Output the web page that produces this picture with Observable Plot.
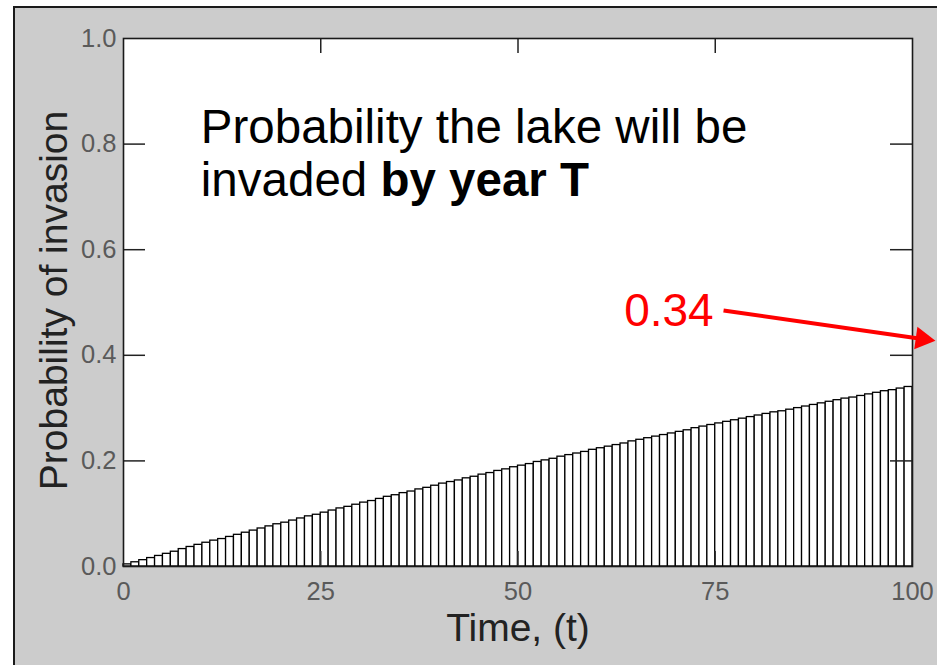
<!DOCTYPE html>
<html>
<head>
<meta charset="utf-8">
<script src="https://cdn.jsdelivr.net/npm/d3@7"></script>
<script src="https://cdn.jsdelivr.net/npm/@observablehq/plot@0.6"></script>
<style>
  html, body { margin: 0; padding: 0; background: #ffffff; }
  #wrap { position: relative; width: 937px; height: 665px; overflow: hidden; background: #ffffff; }
  #panel { position: absolute; left: 13px; top: 6px; right: 0; bottom: 0; background: #cccccc;
           border-left: 2px solid #1a1a1a; border-top: 2px solid #1a1a1a; }
  #chart { position: absolute; left: 0; top: 0; }
</style>
</head>
<body>
<div id="wrap"><div id="panel"></div><div id="chart"></div></div>
<script>
// Probability of invasion by year t (t = 1..100)
const probs = [
  0.004,0.008,0.012,0.016,0.020,0.024,0.028,0.033,0.037,0.041,
  0.045,0.049,0.052,0.056,0.060,0.064,0.068,0.072,0.076,0.080,
  0.083,0.087,0.091,0.095,0.098,0.102,0.106,0.110,0.113,0.117,
  0.121,0.124,0.128,0.132,0.135,0.139,0.142,0.146,0.149,0.153,
  0.157,0.160,0.163,0.167,0.170,0.174,0.177,0.181,0.184,0.188,
  0.191,0.194,0.198,0.201,0.204,0.208,0.211,0.214,0.217,0.221,
  0.224,0.227,0.230,0.233,0.237,0.240,0.243,0.246,0.249,0.252,
  0.255,0.258,0.262,0.265,0.268,0.271,0.274,0.277,0.280,0.283,
  0.286,0.289,0.292,0.294,0.297,0.300,0.303,0.306,0.309,0.312,
  0.315,0.318,0.320,0.323,0.326,0.329,0.332,0.334,0.337,0.340
];
const years = probs.map((_, i) => i + 1);

const xTickLabels = [0, 25, 50, 75, 100];
const xInnerTicks = [25, 50, 75];
const yTickLabels = [0, 0.2, 0.4, 0.6, 0.8, 1.0];
const yInnerTicks = [0.2, 0.4, 0.6, 0.8];

const xTitle = "Time, (t)";
const yTitle = "Probability of invasion";

// annotation (data coordinates)
const noteLines = ["Probability the lake will be", "invaded by year T"];
const noteT = [9.8, 9.8];
const noteP = [0.803, 0.701];
const valueLabel = ["0.34"];
const valueLabelT = [74.8];
const valueLabelP = [0.456];
const arrowFrom = [76.05, 0.485];
const arrowTo = [101.25, 0.431];

const bars = years.map((t, i) => ({t, p: probs[i]}));
const notes = noteLines.map((s, i) => ({s, t: noteT[i], p: noteP[i]}));
const vlabels = valueLabel.map((s, i) => ({s, t: valueLabelT[i], p: valueLabelP[i]}));
const arrowData = [{x1: arrowFrom[0], y1: arrowFrom[1], x2: arrowTo[0], y2: arrowTo[1]}];

const W = 937, H = 665, ML = 123, MR = 25, MT = 38, MB = 99;
const FW = W - ML - MR, FH = H - MT - MB;
const font = "'Liberation Sans', Arial, Helvetica, sans-serif";

const chart = Plot.plot({
  width: W,
  height: H,
  marginLeft: ML, marginRight: MR, marginTop: MT, marginBottom: MB,
  style: {background: "transparent", fontFamily: font, overflow: "visible"},
  x: {domain: [0, 100], axis: null},
  y: {domain: [0, 1], axis: null},
  marks: [
    Plot.frame({fill: "white", stroke: null}),
    Plot.rectY(bars, {x1: d => d.t - 1, x2: d => d.t, y: "p", fill: "white", stroke: "#000", strokeWidth: 1.3}),
    // inward ticks
    Plot.tickY(yInnerTicks, {y: d => d, stroke: "#222", strokeWidth: 1.5, insetRight: FW - 22}),
    Plot.tickY(yInnerTicks, {y: d => d, stroke: "#222", strokeWidth: 1.5, insetLeft: FW - 22}),
    Plot.tickX(xInnerTicks, {x: d => d, stroke: "#222", strokeWidth: 1.5, insetBottom: FH - 15}),
    Plot.tickX(xInnerTicks, {x: d => d, stroke: "#333", strokeWidth: 1.5, insetTop: FH - 15}),
    Plot.frame({stroke: "#1a1a1a", strokeWidth: 1.6}),
    // tick labels
    Plot.axisY(yTickLabels, {anchor: "left", tickSize: 0, tickPadding: 7, fontSize: 25.5, color: "#5a5a5a",
      tickFormat: d => d.toFixed(1), label: null}),
    Plot.axisX(xTickLabels, {anchor: "bottom", tickSize: 0, tickPadding: 15, fontSize: 25.5, color: "#5a5a5a",
      tickFormat: d => String(d), label: null}),
    // axis titles
    Plot.text([yTitle], {frameAnchor: "left", dx: -57, dy: -2, rotate: -90, text: d => d, textAnchor: "middle",
      lineAnchor: "bottom", fontSize: 39, fill: "#222"}),
    Plot.text([xTitle], {frameAnchor: "bottom", dy: 74, text: d => d, textAnchor: "middle",
      lineAnchor: "bottom", fontSize: 39, fill: "#222"}),
    // annotation text
    Plot.text(notes, {x: "t", y: "p", text: "s", textAnchor: "start", lineAnchor: "bottom", fontSize: 47.5, fill: "#000"}),
    Plot.text(vlabels, {x: "t", y: "p", text: "s", textAnchor: "end", lineAnchor: "bottom", fontSize: 46, fill: "#ff0000"}),
    Plot.link(arrowData, {x1: "x1", y1: "y1", x2: "x2", y2: "y2", stroke: "#ff0000", strokeWidth: 4}),
    Plot.dot(arrowData, {x: "x2", y: "y2", symbol: "triangle", r: 8.5, fill: "#ff0000", stroke: "none", rotate: 98})
  ]
});

// bold part of the second annotation line
chart.querySelectorAll("text").forEach(el => {
  if (el.textContent === noteLines[1]) {
    const ns = "http://www.w3.org/2000/svg";
    el.textContent = "";
    el.setAttribute("style", (el.getAttribute("style") || "") + ";white-space:pre");
    const a = document.createElementNS(ns, "tspan");
    a.textContent = "invaded ";
    const b = document.createElementNS(ns, "tspan");
    b.setAttribute("font-weight", "bold");
    b.textContent = "by year T";
    el.append(a, b);
  }
});

document.getElementById("chart").append(chart);
</script>
</body>
</html>
